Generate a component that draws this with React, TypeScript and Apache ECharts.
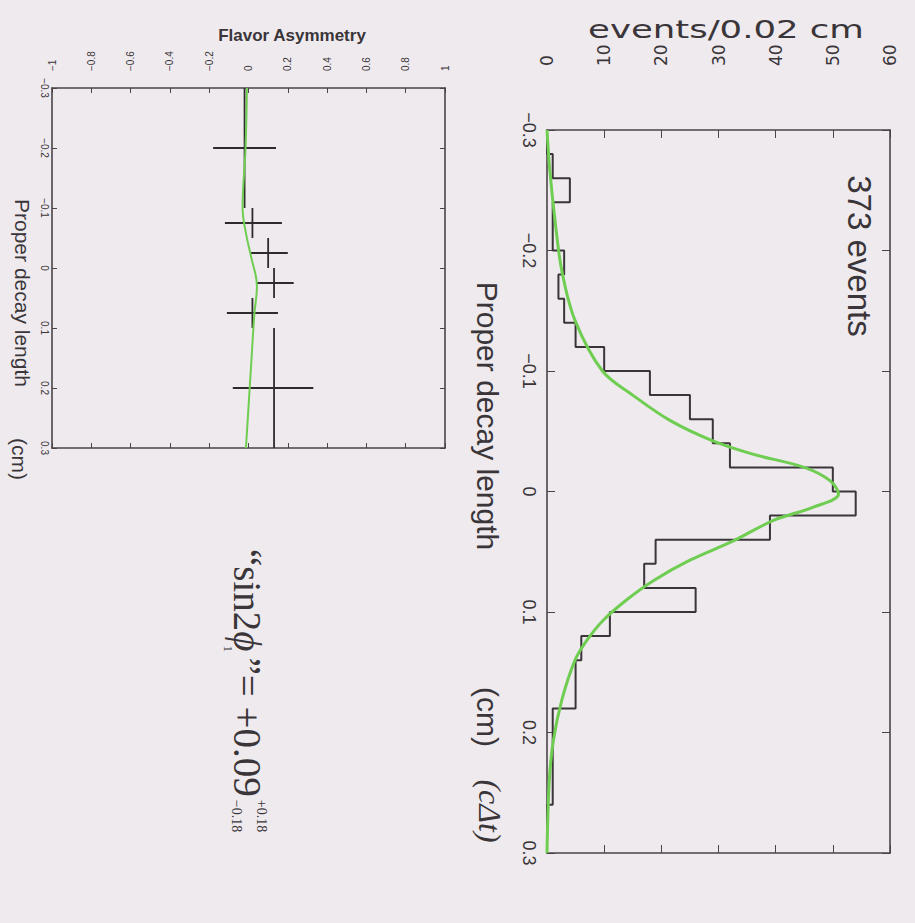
import React, { useEffect, useRef } from 'react';
import * as echarts from 'echarts';

// ---- Main histogram: events per 0.02 cm bin, from -0.3 to 0.3 cm ----
const binStart = -0.3;
const binWidth = 0.02;
const eventCounts = [0, 1, 4, 1, 1, 3, 2, 3, 5, 10, 18, 25, 29, 32, 50, 54, 39, 19, 17, 26, 11, 6, 5, 5, 1, 1, 1, 1, 0, 0];

// ---- Fit curve of the main histogram ----
const fitDecay = [-0.3, -0.266, -0.225, -0.183, -0.142, -0.1, -0.08, -0.059, -0.042, -0.031, -0.02, -0.009, 0.002, 0.013, 0.024, 0.041, 0.057, 0.074, 0.09, 0.107, 0.124, 0.14, 0.173, 0.207, 0.24, 0.3];
const fitEvents = [0, 0.5, 1.4, 2.6, 4.9, 9.7, 15, 21.5, 29, 36, 45, 49.5, 51, 46.6, 39.6, 32.6, 25, 18.6, 13.9, 9.8, 6.9, 4.9, 2.6, 1.1, 0.4, 0];

// ---- Flavor asymmetry points ----
const asymCenters = [-0.2, -0.075, -0.025, 0.025, 0.075, 0.2];
const asymBinLo = [-0.3, -0.1, -0.05, 0, 0.05, 0.1];
const asymBinHi = [-0.1, -0.05, 0, 0.05, 0.1, 0.3];
const asymValues = [-0.02, 0.02, 0.1, 0.13, 0.02, 0.13];
const asymErrLo = [-0.18, -0.12, 0.01, 0.04, -0.11, -0.08];
const asymErrHi = [0.14, 0.17, 0.2, 0.23, 0.15, 0.33];

// ---- Asymmetry fit curve ----
const asymFitDecay = [-0.3, -0.2, -0.1, -0.058, -0.019, 0.031, 0.076, 0.164, 0.3];
const asymFitValues = [-0.008, -0.015, -0.03, -0.013, 0.013, 0.043, 0.03, 0.013, -0.013];

const BG = '#eeeaee';
const FRAME = '#4a4448';
const INK = '#3a3539';
const GREEN = '#6fcd52';
const ROT = -Math.PI / 2;

const fmt = (v: number) => {
  const r = Math.round(v * 10) / 10;
  if (r === 0) return '0';
  return String(r).replace('-', '−');
};

function buildOption() {
  // histogram outline
  const hist: number[][] = [[0, binStart]];
  eventCounts.forEach((c, i) => {
    const lo = binStart + i * binWidth;
    const hi = lo + binWidth;
    hist.push([c, lo]);
    hist.push([c, hi]);
  });
  hist.push([0, binStart + eventCounts.length * binWidth]);

  const fit = fitDecay.map((d, i) => [fitEvents[i], d]);
  const asymFit = asymFitDecay.map((d, i) => [asymFitValues[i], d]);
  const errData = asymCenters.map((c, i) => [asymValues[i], c, asymErrLo[i], asymErrHi[i], asymBinLo[i], asymBinHi[i]]);

  // measure sin2phi tokens
  const cv = document.createElement('canvas').getContext('2d')!;
  const meas = (t: string, font: string) => { cv.font = font; return cv.measureText(t).width; };
  const FS = 39;
  const serif = "'Liberation Serif', 'DejaVu Serif', serif";
  const t1 = '“sin2';
  const t2 = 'ϕ';
  const t4 = '”= +0.09';
  const w1 = meas(t1, `${FS}px ${serif}`);
  const w2 = meas(t2, `italic ${FS}px ${serif}`);
  const w4 = meas(t4, `${FS}px ${serif}`);
  const u2 = w1;
  const u4 = u2 + w2 + 6;
  const u5 = u4 + w4 + 3;

  const axisLine = { show: true, onZero: false, lineStyle: { color: FRAME, width: 1.6 } };
  const tickIn = (len: number) => ({ show: true, inside: true, length: len, lineStyle: { color: FRAME, width: 1 } });

  const txt = (text: string, x: number, y: number, fontSize: number, extra: any = {}, rot = ROT) => ({
    type: 'text', x, y, rotation: rot,
    style: {
      text, fontSize, fontFamily: "'Liberation Sans', Arial, sans-serif", fill: INK,
      textAlign: 'center', textVerticalAlign: 'middle', ...extra,
    },
  });

  return {
    animation: false,
    backgroundColor: BG,
    grid: [
      { left: 547, top: 130, width: 343, height: 723 },
      { left: 52, top: 88, width: 393, height: 360 },
    ],
    xAxis: [
      {
        gridIndex: 0, type: 'value', min: 0, max: 60, interval: 10, position: 'top',
        axisLine, axisTick: tickIn(8), splitLine: { show: false },
        axisLabel: { rotate: -90, margin: 64, fontSize: 17, color: INK, fontFamily: 'DejaVu Sans' },
      },
      {
        gridIndex: 0, type: 'value', min: 0, max: 60, interval: 10, position: 'bottom',
        axisLine, axisTick: tickIn(8), splitLine: { show: false }, axisLabel: { show: false },
      },
      {
        gridIndex: 1, type: 'value', min: -1, max: 1, interval: 0.2, position: 'top',
        axisLine, axisTick: tickIn(5), splitLine: { show: false },
        axisLabel: { rotate: -90, margin: 17, fontSize: 10, color: INK, formatter: fmt, fontFamily: 'Liberation Sans' },
      },
      {
        gridIndex: 1, type: 'value', min: -1, max: 1, interval: 0.2, position: 'bottom',
        axisLine, axisTick: tickIn(5), splitLine: { show: false }, axisLabel: { show: false },
      },
    ],
    yAxis: [
      {
        gridIndex: 0, type: 'value', min: -0.3, max: 0.3, interval: 0.1, inverse: true, position: 'left',
        axisLine, axisTick: tickIn(8), splitLine: { show: false },
        axisLabel: { rotate: -90, margin: 9, fontSize: 18, color: INK, formatter: fmt, fontFamily: 'Liberation Sans' },
      },
      {
        gridIndex: 0, type: 'value', min: -0.3, max: 0.3, interval: 0.1, inverse: true, position: 'right',
        axisLine, axisTick: tickIn(8), splitLine: { show: false }, axisLabel: { show: false },
      },
      {
        gridIndex: 1, type: 'value', min: -0.3, max: 0.3, interval: 0.1, inverse: true, position: 'left',
        axisLine, axisTick: tickIn(5), splitLine: { show: false },
        axisLabel: { rotate: -90, margin: 3, fontSize: 10, color: INK, formatter: fmt, fontFamily: 'Liberation Sans' },
      },
      {
        gridIndex: 1, type: 'value', min: -0.3, max: 0.3, interval: 0.1, inverse: true, position: 'right',
        axisLine, axisTick: tickIn(5), splitLine: { show: false }, axisLabel: { show: false },
      },
    ],
    series: [
      {
        type: 'line', xAxisIndex: 0, yAxisIndex: 0, data: hist, showSymbol: false,
        lineStyle: { color: INK, width: 2 }, z: 3,
      },
      {
        type: 'line', xAxisIndex: 0, yAxisIndex: 0, data: fit, showSymbol: false, smooth: 0.35,
        lineStyle: { color: GREEN, width: 3 }, z: 4,
      },
      {
        type: 'custom', xAxisIndex: 2, yAxisIndex: 2, data: errData,
        encode: { x: [0, 2, 3], y: [1, 4, 5] },
        renderItem: (params: any, api: any) => {
          const v = api.value(0), c = api.value(1), lo = api.value(2), hi = api.value(3);
          const blo = api.value(4), bhi = api.value(5);
          const a = api.coord([lo, c]);
          const b = api.coord([hi, c]);
          const p = api.coord([v, blo]);
          const q = api.coord([v, bhi]);
          const style = { stroke: '#2e2a2e', lineWidth: 1.8 };
          return {
            type: 'group',
            children: [
              { type: 'line', shape: { x1: a[0], y1: a[1], x2: b[0], y2: b[1] }, style },
              { type: 'line', shape: { x1: p[0], y1: p[1], x2: q[0], y2: q[1] }, style },
            ],
          };
        },
        z: 3,
      },
      {
        type: 'line', xAxisIndex: 2, yAxisIndex: 2, data: asymFit, showSymbol: false, smooth: 0.4,
        lineStyle: { color: GREEN, width: 2 }, z: 4,
      },
    ],
    graphic: [
      {
        type: 'text', x: 726, y: 29, scaleX: 1.42,
        style: {
          text: 'events/0.02 cm', fontSize: 25, fontFamily: 'DejaVu Sans', fill: INK,
          textAlign: 'center', textVerticalAlign: 'middle',
        },
      },
      txt('373 events', 859, 256, 33),
      txt('Proper decay length', 487, 416, 30),
      txt('(cm)', 487, 717, 30),
      txt('(cΔt)', 490, 811, 32, { fontFamily: "'Liberation Serif', serif", fontStyle: 'italic' }),
      txt('Flavor Asymmetry', 292, 35, 17, { fontWeight: 'bold' }, 0),
      txt('Proper decay length', 22, 293, 21),
      txt('(cm)', 19, 459, 21),
      {
        type: 'group', x: 247, y: 549, rotation: ROT,
        children: [
          { type: 'text', x: 0, y: 0, style: { text: t1, fontSize: FS, fontFamily: serif, fill: INK, textAlign: 'left', textVerticalAlign: 'middle' } },
          { type: 'text', x: u2, y: 0, style: { text: t2, fontSize: FS, fontStyle: 'italic', fontFamily: serif, fill: INK, textAlign: 'left', textVerticalAlign: 'middle' } },
          { type: 'text', x: u2 + w2 * 0.72, y: 19, style: { text: '1', fontSize: 12, fontFamily: serif, fill: INK, textAlign: 'left', textVerticalAlign: 'middle' } },
          { type: 'text', x: u4, y: 0, style: { text: t4, fontSize: FS, fontFamily: serif, fill: INK, textAlign: 'left', textVerticalAlign: 'middle' } },
          { type: 'text', x: u5, y: -14, style: { text: '+0.18', fontSize: 14, fontFamily: serif, fill: INK, textAlign: 'left', textVerticalAlign: 'middle' } },
          { type: 'text', x: u5, y: 11, style: { text: '−0.18', fontSize: 14, fontFamily: serif, fill: INK, textAlign: 'left', textVerticalAlign: 'middle' } },
        ],
      },
    ],
  };
}

export default function App() {
  const ref = useRef<HTMLDivElement>(null);
  useEffect(() => {
    document.body.style.margin = '0';
    const chart = echarts.init(ref.current!, null, { renderer: 'svg' });
    chart.setOption(buildOption() as any);
    return () => chart.dispose();
  }, []);
  return <div ref={ref} style={{ width: 915, height: 923, background: BG }} />;
}
